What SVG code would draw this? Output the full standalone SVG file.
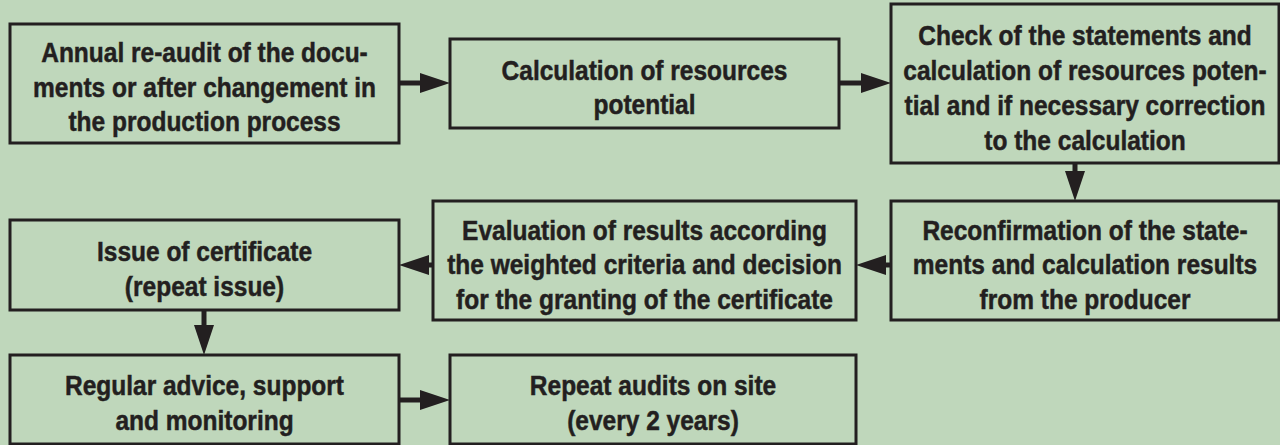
<svg xmlns="http://www.w3.org/2000/svg" width="1280" height="445" viewBox="0 0 1280 445">
<defs>
<style>
.box{fill:#bfd7bb;stroke:#231f20;stroke-width:3}
.t{font-family:"Liberation Sans",Arial,sans-serif;font-weight:bold;font-size:28.5px;fill:#231f20;stroke:#231f20;stroke-width:0.5;text-anchor:middle}
.c{stroke:#231f20;stroke-width:5;fill:none}
</style>
<marker id="ah" markerUnits="userSpaceOnUse" markerWidth="30" markerHeight="20" refX="5" refY="10" orient="auto" viewBox="0 0 30 20">
<path d="M0,0 L30,10 L0,20 Z" fill="#231f20"/>
</marker>
</defs>
<rect x="0" y="0" width="1280" height="445" fill="#bfd7bb"/>
<g id="connectors">
<line class="c" x1="399" y1="83" x2="425" y2="83" marker-end="url(#ah)"/>
<line class="c" x1="839" y1="83" x2="866" y2="83" marker-end="url(#ah)"/>
<line class="c" x1="1075" y1="163" x2="1075" y2="176" marker-end="url(#ah)"/>
<line class="c" x1="891" y1="265" x2="881" y2="265" marker-end="url(#ah)"/>
<line class="c" x1="433" y1="265" x2="424" y2="265" marker-end="url(#ah)"/>
<line class="c" x1="204" y1="310" x2="204" y2="330" marker-end="url(#ah)"/>
<line class="c" x1="399" y1="400" x2="425" y2="400" marker-end="url(#ah)"/>
</g>
<g id="n1">
<rect class="box" x="10" y="24" width="389" height="119"/>
<text class="t" transform="translate(204.5 0) scale(0.86 1)"><tspan x="0" y="62">Annual re-audit of the docu-</tspan><tspan x="0" y="97">ments or after changement in</tspan><tspan x="0" y="131.5">the production process</tspan></text>
</g>
<g id="n2">
<rect class="box" x="450" y="39" width="389" height="89"/>
<text class="t" transform="translate(644.5 0) scale(0.86 1)"><tspan x="0" y="80">Calculation of resources</tspan><tspan x="0" y="114.5">potential</tspan></text>
</g>
<g id="n3">
<rect class="box" x="891" y="4" width="388" height="159"/>
<text class="t" transform="translate(1085 0) scale(0.86 1)"><tspan x="0" y="45">Check of the statements and</tspan><tspan x="0" y="80">calculation of resources poten-</tspan><tspan x="0" y="115">tial and if necessary correction</tspan><tspan x="0" y="150">to the calculation</tspan></text>
</g>
<g id="n4">
<rect class="box" x="891" y="201" width="388" height="119"/>
<text class="t" transform="translate(1085 0) scale(0.86 1)"><tspan x="0" y="240">Reconfirmation of the state-</tspan><tspan x="0" y="274.5">ments and calculation results</tspan><tspan x="0" y="309">from the producer</tspan></text>
</g>
<g id="n5">
<rect class="box" x="433" y="201" width="423" height="119"/>
<text class="t" transform="translate(644.5 0) scale(0.86 1)"><tspan x="0" y="240">Evaluation of results according</tspan><tspan x="0" y="274.5">the weighted criteria and decision</tspan><tspan x="0" y="309">for the granting of the certificate</tspan></text>
</g>
<g id="n6">
<rect class="box" x="10" y="220" width="389" height="90"/>
<text class="t" transform="translate(204.5 0) scale(0.86 1)"><tspan x="0" y="261.5">Issue of certificate</tspan><tspan x="0" y="296.5">(repeat issue)</tspan></text>
</g>
<g id="n7">
<rect class="box" x="10" y="355" width="389" height="89"/>
<text class="t" transform="translate(204.5 0) scale(0.86 1)"><tspan x="0" y="395">Regular advice, support</tspan><tspan x="0" y="430">and monitoring</tspan></text>
</g>
<g id="n8">
<rect class="box" x="450" y="355" width="406" height="89"/>
<text class="t" transform="translate(653 0) scale(0.86 1)"><tspan x="0" y="395">Repeat audits on site</tspan><tspan x="0" y="430">(every 2 years)</tspan></text>
</g>
</svg>
